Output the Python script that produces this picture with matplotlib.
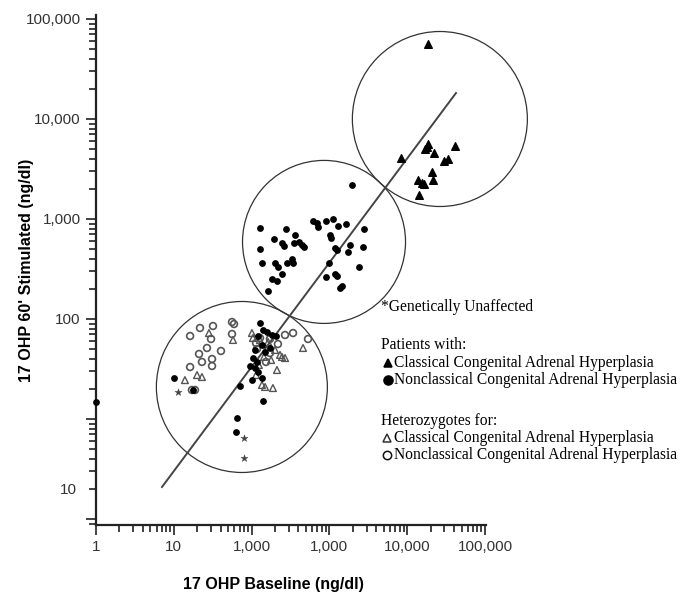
import numpy as np
import matplotlib
matplotlib.use('Agg')
import matplotlib.pyplot as plt
from matplotlib import ticker
from matplotlib.lines import Line2D

# 17-OHP baseline vs 60' stimulated (ng/dl)

# patients with classical CAH (filled triangles)
ccah_x = [18500, 8300, 18000, 18500, 16900, 22100, 41100, 29700, 33500, 20800,
          21500, 13800, 15500, 16400, 14200]
ccah_y = [56000, 4070, 5250, 5620, 5010, 4570, 5370, 3800, 3980, 2950,
          2450, 2450, 2290, 2240, 1740]

# patients with nonclassical CAH (filled circles)
nccah_x = [1950, 128, 277, 128, 136, 194, 246, 261, 361, 351, 407, 444, 472, 200,
           218, 285, 330, 341, 246, 183, 212, 163, 615, 693, 713, 904, 1110, 1290,
           1630, 1020, 1050, 1180, 1250, 1730, 1840, 2700, 2790, 988, 2400, 904,
           1180, 1250, 1370, 1450,
           1.0, 10.1, 71, 140, 64.9, 63.1, 128, 140, 158, 121, 136, 111, 104, 117,
           111, 121, 101, 136, 172, 149, 95, 206, 183, 17.7]
nccah_y = [2190, 813, 794, 501, 363, 631, 575, 537, 692, 575, 589, 550, 525, 363,
           331, 363, 398, 363, 282, 251, 240, 191, 955, 912, 832, 955, 1000, 851,
           891, 692, 646, 513, 490, 468, 550, 525, 794, 363, 331, 263,
           282, 269, 204, 214,
           14.8, 25.7, 21.4, 15.1, 10.2, 7.4, 91.2, 77.6, 74.1, 67.6, 55.0, 49.0,
           40.7, 37.2, 32.4, 29.5, 24.5, 25.7, 51.3, 46.8, 33.9, 67.6, 69.2, 19.5]

# heterozygotes for classical CAH (open triangles)
het_c_x = [28.3, 57.7, 13.9, 19.9, 23.0, 458, 212, 149, 188, 104, 269, 101, 128,
           163, 144, 124, 200, 232, 178, 114, 136, 246]
het_c_y = [72.4, 61.7, 24.5, 27.5, 26.3, 51.3, 30.9, 20.9, 20.4, 64.6, 40.7, 72.4,
           61.7, 58.9, 41.7, 34.7, 49.0, 43.7, 38.9, 27.5, 21.9, 41.7]

# heterozygotes for nonclassical CAH (open circles)
het_nc_x = [16.2, 21.7, 31.9, 30.1, 21.1, 26.7, 40.4, 31.0, 16.2, 56.0, 59.4, 56.0,
            114, 128, 172, 218, 269, 341, 531, 17.1, 18.7, 117, 172, 153, 31.0, 23.0]
het_nc_y = [67.6, 81.3, 85.1, 63.1, 44.7, 51.3, 47.9, 33.9, 33.1, 93.3, 89.1, 70.8,
            57.5, 64.6, 63.1, 56.2, 69.2, 72.4, 63.1, 19.5, 19.5, 50.1, 45.7, 37.2,
            39.8, 37.2]

# genetically unaffected (*)
unaff_x = [11.3, 79.8, 79.8]
unaff_y = [18.6, 6.5, 4.1]

# regression line end points
fit_x = [7.05, 42400]
fit_y = [2.09, 18200]

# group circles (centres)
group_x = [75, 853, 26300]
group_y = [20.9, 590, 10000]
group_d = [171, 163, 175]   # diameter in pixels

x_ticks = [1, 10, 100, 1000, 10000, 100000]
x_ticklabels = ['1', '10', '1,000', '1,000', '10,000', '100,000']
y_ticks = [100000, 10000, 1000, 100]
y_ticklabels = ['100,000', '10,000', '1,000', '100']

sans = 'Liberation Sans'
serif = ['Liberation Serif', 'DejaVu Serif']
dpi = 100

fig = plt.figure(figsize=(6.94, 5.96), dpi=dpi)
ax = fig.add_axes([96/694, 1-525/596, (486-96)/694, (525-15)/596])
ax.set_xscale('log')
ax.set_yscale('log')
ax.set_xlim(1, 10**((486-96)/77.8))
ax.set_ylim(10**((519-525)/100.), 10**((519-15)/100.))

# big group circles, round in screen space
s_circ = [(d*72./dpi)**2 for d in group_d]
ax.scatter(group_x, group_y, s=s_circ, facecolors='none', edgecolors='#333333',
           linewidths=0.9, zorder=1, clip_on=False)

ax.plot(fit_x, fit_y, color='#444444', lw=1.4, zorder=2)

ax.scatter(het_nc_x, het_nc_y, s=24, marker='o', facecolors='none',
           edgecolors='#555555', linewidths=1.2, zorder=3)
ax.scatter(het_c_x, het_c_y, s=24, marker='^', facecolors='none',
           edgecolors='#555555', linewidths=1.0, zorder=3)
ax.scatter(nccah_x, nccah_y, s=15, marker='o', color='black', zorder=4, clip_on=False)
ax.scatter(ccah_x, ccah_y, s=30, marker='^', color='black', zorder=4)
ax.scatter(unaff_x, unaff_y, s=28, marker='*', color='#444444', linewidths=0.3, zorder=4)

for side in ['top', 'right']:
    ax.spines[side].set_visible(False)
for side in ['left', 'bottom']:
    ax.spines[side].set_linewidth(1.6)
    ax.spines[side].set_color('#222222')

ax.xaxis.set_major_locator(ticker.FixedLocator(x_ticks))
ax.xaxis.set_major_formatter(ticker.FixedFormatter(x_ticklabels))
ax.xaxis.set_minor_locator(ticker.LogLocator(base=10, subs=np.arange(2, 10), numticks=20))
ax.xaxis.set_minor_formatter(ticker.NullFormatter())

ylab = dict(zip(y_ticks, y_ticklabels))
ax.yaxis.set_major_locator(ticker.FixedLocator([1, 10] + y_ticks))
ax.yaxis.set_major_formatter(ticker.FuncFormatter(lambda v, p: ylab.get(int(round(v)), '')))
ax.yaxis.set_minor_locator(ticker.LogLocator(base=10, subs=np.arange(2, 10), numticks=20))
# the scan has its "10" sitting on the 2 tick
ax.yaxis.set_minor_formatter(ticker.FuncFormatter(lambda v, p: '10' if abs(v-2) < 1e-6 else ''))

ax.tick_params(which='major', length=7, width=1.2, color='#222222', labelsize=11,
               labelcolor='#333333', pad=4)
ax.tick_params(which='minor', length=5, width=1.2, color='#222222', labelsize=11,
               labelcolor='#333333', pad=6)
ax.tick_params(axis='y', which='major', pad=4)
ax.tick_params(axis='y', which='minor', pad=9)
for lab in ax.get_xticklabels() + ax.get_yticklabels() + ax.get_yticklabels(minor=True):
    lab.set_family(sans)

ax.set_xlabel('17 OHP Baseline (ng/dl)', fontsize=11.5, fontweight='bold', family=sans)
ax.set_ylabel("17 OHP 60' Stimulated (ng/dl)", fontsize=11.5, fontweight='bold', family=sans)
ax.xaxis.set_label_coords((273-96)/390., (525-577)/510.)
ax.yaxis.set_label_coords((34-96)/390., 0.5)

# key, placed in pixel positions of the scan
def px(x, y):
    return x/694., 1 - y/596.

def key_marker(x, y, m, fc, ec, ms):
    fig.add_artist(Line2D([x/694.], [1 - y/596.], marker=m, markersize=ms,
                          markerfacecolor=fc, markeredgecolor=ec, markeredgewidth=1.1,
                          linestyle='none', transform=fig.transFigure))

fs = 11.2
fig.text(*px(381, 307), '*Genetically Unaffected', fontsize=fs, family=serif, va='center')
fig.text(*px(381, 345), 'Patients with:', fontsize=fs, family=serif, va='center')
key_marker(388, 363, '^', 'black', 'black', 6)
fig.text(*px(394, 363), 'Classical Congenital Adrenal Hyperplasia', fontsize=fs, family=serif, va='center')
key_marker(388, 380, 'o', 'black', 'black', 6.5)
fig.text(*px(394, 380), 'Nonclassical Congenital Adrenal Hyperplasia', fontsize=fs, family=serif, va='center')
fig.text(*px(381, 421), 'Heterozygotes for:', fontsize=fs, family=serif, va='center')
key_marker(387, 438, '^', 'none', '#333333', 6)
fig.text(*px(394, 438), 'Classical Congenital Adrenal Hyperplasia', fontsize=fs, family=serif, va='center')
key_marker(387, 455, 'o', 'none', '#111111', 6)
fig.text(*px(394, 455), 'Nonclassical Congenital Adrenal Hyperplasia', fontsize=fs, family=serif, va='center')

fig.savefig('out.png', dpi=dpi)
